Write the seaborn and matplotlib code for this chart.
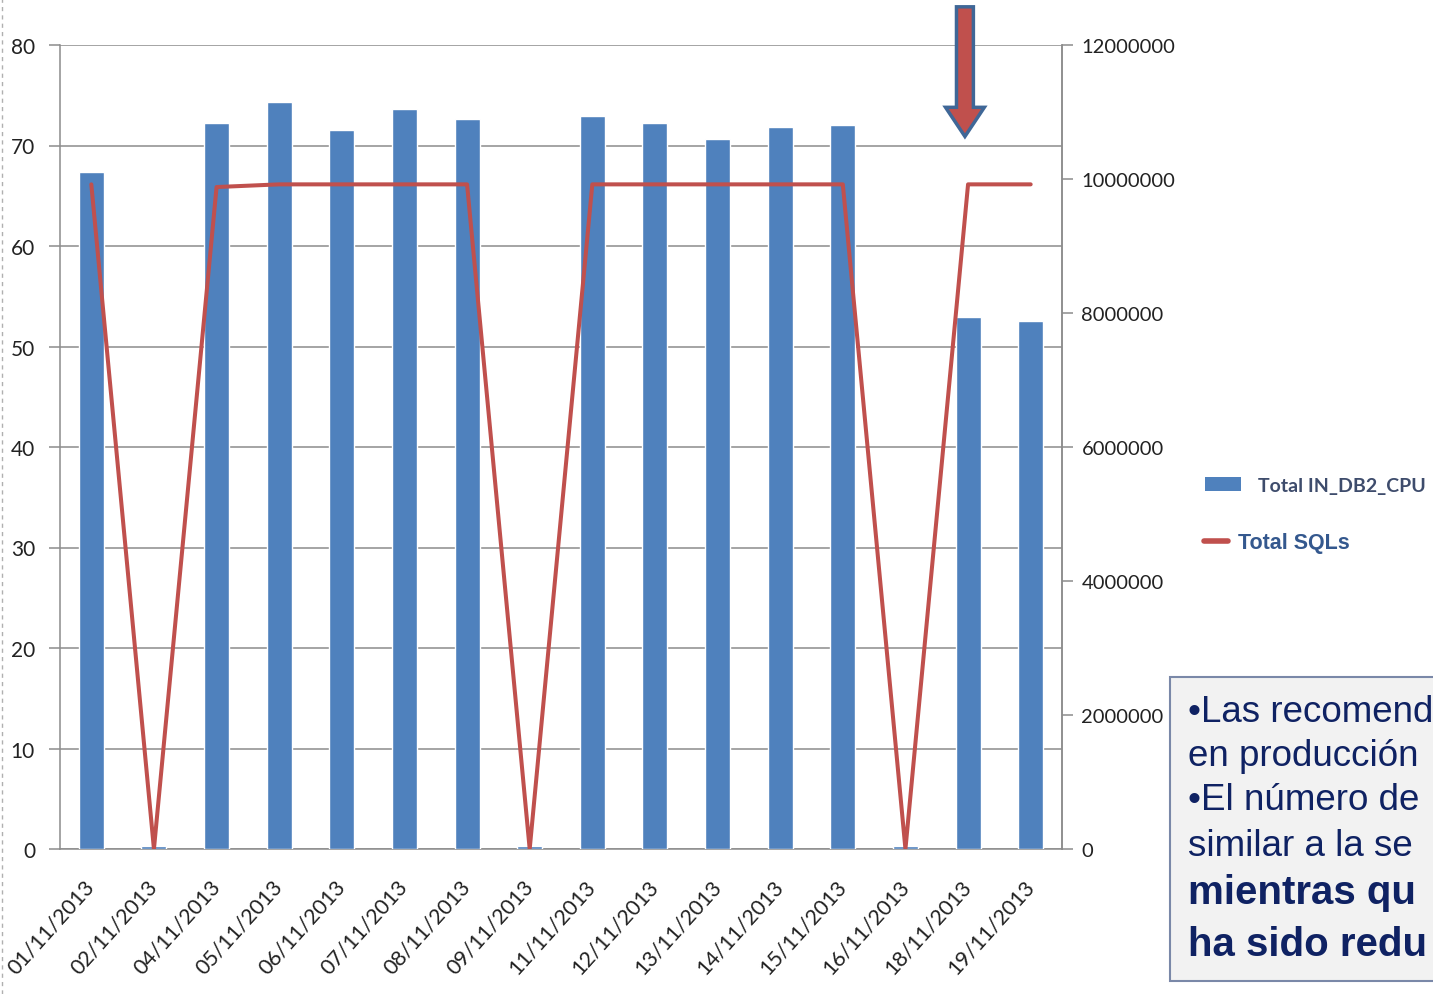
import numpy as np
import matplotlib
matplotlib.use("Agg")
import matplotlib.pyplot as plt
import seaborn as sns
from matplotlib.patches import Rectangle, FancyArrow
from matplotlib.lines import Line2D

# ---------------- data ----------------
dates = ["01/11/2013", "02/11/2013", "04/11/2013", "05/11/2013", "06/11/2013",
         "07/11/2013", "08/11/2013", "09/11/2013", "11/11/2013", "12/11/2013",
         "13/11/2013", "14/11/2013", "15/11/2013", "16/11/2013", "18/11/2013",
         "19/11/2013"]
cpu = [67.4, 0.3, 72.2, 74.3, 71.5, 73.6, 72.6, 0.3, 72.9, 72.2, 70.6, 71.8,
       72.0, 0.3, 52.9, 52.5]
sqls = [9920000, 0, 9880000, 9920000, 9920000, 9920000, 9920000, 0, 9920000,
        9920000, 9920000, 9920000, 9920000, 0, 9920000, 9920000]
left_ticks = [0, 10, 20, 30, 40, 50, 60, 70, 80]
right_ticks = [0, 2000000, 4000000, 6000000, 8000000, 10000000, 12000000]
bar_label = "Total IN_DB2_CPU"
line_label = "Total SQLs"
# only the part of the note that is visible on the slide
note_lines = ["•Las recomend",
              "en producción",
              "•El número de",
              "similar a la se"]
note_bold = ["mientras qu",
             "ha sido redu"]
arrow_date = "18/11/2013"

# ---------------- style ----------------
sns.set_style("white")
plt.rcParams["font.family"] = ["Lato", "DejaVu Sans"]

BLUE = "#4f81bd"
RED = "#c0504d"
GRID = "#8c8c8c"
TXT = "#222222"

fig = plt.figure(figsize=(14.33, 9.95), dpi=100)
ax = fig.add_axes([60 / 1433, 145 / 995, 1002 / 1433, 804 / 995])

sns.barplot(x=dates, y=cpu, ax=ax, color=BLUE, saturation=1, width=0.4, zorder=3)
ax.set_ylim(0, 80)
ax.set_xlim(-0.5, len(dates) - 0.5)
ax.set_yticks(left_ticks)
ax.yaxis.grid(True, color=GRID, lw=1.1, zorder=0)
ax.set_axisbelow(True)
ax.set_xlabel("")
ax.set_ylabel("")

for s in ["left", "right", "bottom"]:
    ax.spines[s].set_color(GRID)
    ax.spines[s].set_linewidth(1.1)
ax.spines["top"].set_visible(False)

ax.tick_params(axis="y", which="major", length=8, color=GRID, width=1.1,
               labelsize=15, labelcolor=TXT, pad=10)
ax.set_xticks(range(len(dates)))
ax.set_xticklabels(dates, rotation=48, ha="right", va="center",
                   rotation_mode="anchor", fontsize=15.5, color=TXT)
ax.tick_params(axis="x", which="major", length=0, pad=24)
ax.set_xticks(np.arange(-0.5, len(dates), 1), minor=True)
ax.tick_params(axis="x", which="minor", length=8, color=GRID, width=1.1)

ax2 = ax.twinx()
sns.lineplot(x=np.arange(len(dates)), y=sqls, ax=ax2, color=RED, lw=2.9, zorder=5)
ax2.set_xlim(-0.5, len(dates) - 0.5)
ax2.set_ylim(0, 12000000)
ax2.set_yticks(right_ticks)
ax2.set_yticklabels([str(v) for v in right_ticks])
ax2.set_ylabel("")
ax2.set_xlabel("")
for s in ["left", "top", "bottom"]:
    ax2.spines[s].set_visible(False)
ax2.spines["right"].set_color(GRID)
ax2.spines["right"].set_linewidth(1.1)
ax2.tick_params(axis="y", length=8, color=GRID, width=1.1, labelsize=14.5,
                labelcolor=TXT, pad=6)

# arrow annotation above chosen date
xi = dates.index(arrow_date)
arr = FancyArrow(xi - 0.05, 83.8, 0, -12.9, width=0.27, head_width=0.62,
                 head_length=2.9, length_includes_head=True,
                 facecolor=RED, edgecolor="#3f6797", lw=2.5,
                 clip_on=False, zorder=10, transform=ax.transData)
ax.add_patch(arr)

# legends
h_bar = Rectangle((0, 0), 1, 1, facecolor=BLUE, edgecolor="none")
leg1 = fig.legend([h_bar], [bar_label], loc="center left",
                  bbox_to_anchor=(1187 / 1433, 1 - 486 / 995), frameon=False,
                  handlelength=1.9, handleheight=0.7, handletextpad=0.85,
                  prop={"family": "Lato", "weight": "bold", "size": 14})
leg1.get_texts()[0].set_color("#3e4c6c")
h_line = Line2D([0], [0], color=RED, lw=4)
leg2 = fig.legend([h_line], [line_label], loc="center left",
                  bbox_to_anchor=(1185 / 1433, 1 - 544 / 995), frameon=False,
                  handlelength=1.1, handletextpad=0.45,
                  prop={"family": "Liberation Sans", "weight": "bold", "size": 15.5})
leg2.get_texts()[0].set_color("#34588e")

# note box
box = Rectangle((1170 / 1433, 13 / 995), 300 / 1433, 304 / 995,
                transform=fig.transFigure, facecolor="#f2f2f2",
                edgecolor="#7a88a8", lw=1.5, zorder=1)
fig.add_artist(box)
NAVY = "#0f2263"
ys = [712, 757, 801, 846]
for t, yp in zip(note_lines, ys):
    fig.text(1188 / 1433, 1 - yp / 995, t, family="Liberation Sans",
             fontsize=26.5, color=NAVY, va="center", ha="left", zorder=2)
for t, yp in zip(note_bold, [893, 945]):
    fig.text(1188 / 1433, 1 - yp / 995, t, family="Liberation Sans",
             fontsize=29, weight="bold", color=NAVY, va="center", ha="left",
             zorder=2)

# dashed slide edge at left
fig.add_artist(Line2D([2 / 1433, 2 / 1433], [0, 1], transform=fig.transFigure,
                      color="#b0b0b0", lw=1, ls=(0, (3, 3))))

fig.savefig("out.png", dpi=100)
